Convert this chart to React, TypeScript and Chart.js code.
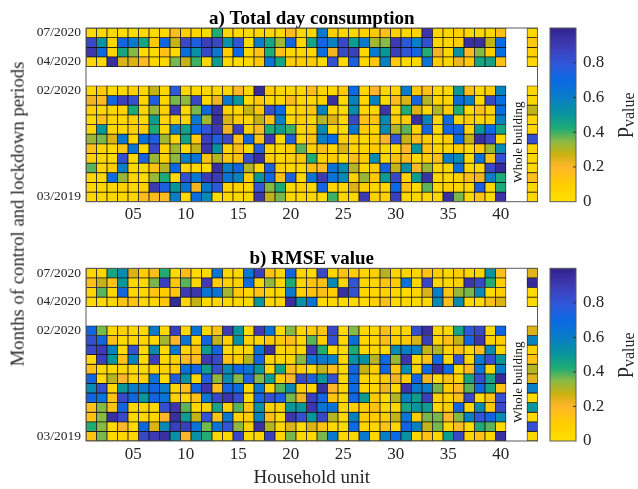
import React, { useEffect, useRef } from "react";
import { Chart, registerables } from "chart.js";
Chart.register(...registerables);

const SERIF = '"Liberation Serif", "Times New Roman", serif';

const units = Array.from({ length: 43 }, (_, i) => String(i + 1));
const xTickUnits = [5, 10, 15, 20, 25, 30, 35, 40];
const xTickLabels = ["05", "10", "15", "20", "25", "30", "35", "40"];
const yTickRows = [1, 4, 7, 18];
const yTickLabels = ["07/2020", "04/2020", "02/2020", "03/2019"];
const rowNumbers = [1, 2, 3, 4, 7, 8, 9, 10, 11, 12, 13, 14, 15, 16, 17, 18];
const colorbarTicks = [0, 0.2, 0.4, 0.6, 0.8];
const colorStops: [number, number, number, number][] = [
  [0, 255, 224, 0],
  [0.1, 255, 205, 0],
  [0.2, 255, 182, 42],
  [0.27, 205, 178, 15],
  [0.35, 135, 185, 70],
  [0.42, 32, 172, 115],
  [0.5, 8, 150, 155],
  [0.6, 8, 125, 200],
  [0.7, 10, 105, 228],
  [0.8, 50, 85, 215],
  [0.9, 62, 58, 180],
  [1, 50, 35, 140],
];

const a01 = [.02,.03,.03,.02,.02,.03,.03,.04,.18,.1,.05,.03,.42,.05,.03,.03,.05,.05,.03,.18,.05,.05,.62,.08,.05,.05,.08,.12,.16,.08,.05,.05,.92,.05,.05,.08,.05,.05,.05,.16];
const a02 = [.85,.52,.05,.72,.62,.45,.12,.72,.28,.85,.75,.88,.85,.52,.8,.03,.6,.45,.32,.72,.05,.45,.72,.58,.85,.48,.62,.32,.35,.9,.78,.6,.82,.05,.05,.1,.95,.95,.28,.7];
const a03 = [.92,.72,.05,.45,.35,.02,.03,.15,.03,.68,.52,.85,.62,.1,.7,.05,.15,.42,.15,.05,.05,.05,.68,.22,.85,.88,.05,.62,.5,.88,.8,.72,.42,.22,.05,.52,.18,.35,.1,.68];
const a04 = [.05,.03,.95,.25,.25,.18,.05,.05,.36,.28,.4,.05,.48,.05,.03,.05,.12,.65,.45,.1,.1,.1,.03,.82,.03,.75,.05,.12,.58,.12,.03,.03,.65,.1,.05,.22,.12,.45,.46,.16];
const a07 = [.05,.1,.03,.05,.08,.05,.28,.05,.78,.05,.03,.05,.05,.05,.2,.05,.97,.1,.05,.05,.05,.16,.05,.03,.12,.7,.05,.2,.05,.05,.6,.12,.16,.03,.05,.5,.16,.03,.1,.58];
const a08 = [.22,.17,.72,.88,.82,.05,.75,.05,.36,.34,.85,.03,.22,.62,.5,.03,.12,.05,.05,.17,.05,.03,.08,.95,.03,.58,.05,.58,.05,.17,.25,.72,.3,.05,.05,.68,.6,.03,.85,.68];
const a09 = [.08,.05,.05,.08,.43,.05,.33,.08,.9,.03,.36,.72,.93,.08,.05,.28,.12,.82,.7,.03,.08,.12,.58,.05,.03,.55,.05,.05,.92,.05,.42,.25,.05,.3,.1,.42,.03,.16,.08,.68];
const a10 = [.03,.15,.05,.05,.08,.03,.48,.05,.08,.06,.62,.32,.95,.25,.1,.05,.28,.15,.58,.03,.1,.05,.3,.25,.05,.85,.16,.14,.55,.1,.1,.95,.58,.05,.68,.05,.1,.05,.08,.58];
const a11 = [.05,.5,.05,.05,.08,.1,.43,.05,.6,.46,.7,.8,.9,.22,.88,.08,.18,.42,.48,.4,.05,.1,.55,.03,.03,.65,.1,.05,.55,.3,.38,.08,.72,.03,.72,.72,.05,.5,.7,.45];
const a12 = [.33,.36,.25,.62,.06,.68,.75,.32,.06,.46,.12,.88,.75,.85,.15,.72,.14,.9,.03,.75,.05,.14,.6,.7,.08,.1,.05,.08,.2,.8,.28,.17,.1,.03,.1,.7,.28,.95,.85,.03];
const a13 = [.16,.05,.03,.14,.65,.05,.85,.08,.32,.03,.28,.92,.52,.06,.17,.03,.75,.05,.05,.1,.38,.08,.17,.05,.25,.05,.05,.1,.05,.03,.2,.5,.14,.05,.05,.1,.03,.12,.32,.55];
const a14 = [.08,.05,.03,.82,.03,.75,.33,.08,.34,.6,.65,.14,.3,.12,.15,.82,.95,.1,.05,.08,.12,.42,.08,.1,.03,.16,.1,.55,.05,.14,.17,.03,.1,.14,.6,.55,.03,.65,.14,.82];
const a15 = [.38,.05,.1,.6,.03,.05,.15,.3,.7,.05,.05,.02,.95,.6,.72,.3,.05,.75,.1,.05,.03,.16,.18,.65,.55,.3,.05,.1,.72,.28,.52,.2,.33,.05,.05,.68,.05,.05,.85,.97];
const a16 = [.05,.03,.68,.33,.05,.03,.33,.43,.03,.82,.62,.9,.9,.65,.58,.1,.5,.72,.16,.75,.05,.65,.9,.65,.55,.08,.33,.12,.48,.85,.08,.48,.93,.05,.05,.08,.16,.22,.6,.43];
const a17 = [.05,.05,.05,.08,.05,.08,.9,.75,.5,.65,.22,.62,.78,.08,.08,.05,.8,.35,.43,.03,.08,.05,.72,.05,.05,.25,.1,.05,.05,.7,.16,.03,.38,.05,.08,.05,.05,.75,.05,.43];
const a18 = [.05,.05,.05,.05,.05,.17,.18,.18,.6,.03,.68,.55,.03,.05,.05,.05,.92,.28,.36,.05,.05,.05,.03,.4,.05,.05,.9,.08,.08,.88,.05,.05,.05,.05,.95,.36,.05,.14,.03,.93];
const aWhole = [.05,.12,.08,.05,.05,.05,.28,.05,.05,.82,.05,.05,.05,.16,.05,.05];

const b01 = [.05,.05,.45,.55,.25,.1,.16,.42,.03,.17,.03,.03,.65,.05,.05,.62,.88,.14,.05,.72,.05,.03,.85,.05,.15,.1,.05,.08,.3,.05,.05,.05,.15,.1,.05,.1,.05,.05,.52,.16];
const b02 = [.16,.28,.15,.5,.05,.05,.36,.88,.12,.38,.05,.9,.1,.08,.08,.68,.05,.34,.05,.43,.05,.14,.16,.55,.05,.8,.05,.05,.15,.1,.65,.05,.85,.05,.05,.08,.92,.85,.42,.1];
const b03 = [.05,.38,.05,.72,.05,.05,.14,.1,.14,.9,.92,.65,.65,.32,.12,.05,.14,.05,.05,.62,.08,.14,.16,.1,.95,.82,.05,.05,.08,.05,.03,.05,.25,.6,.14,.33,.36,.55,.03,.1];
const b04 = [.03,.03,.05,.15,.14,.05,.05,.12,.97,.05,.28,.03,.05,.05,.05,.03,.5,.05,.05,.95,.52,.65,.03,.05,.03,.03,.03,.08,.16,.03,.05,.03,.05,.55,.16,.55,.03,.03,.16,.25];
const b07 = [.72,.36,.05,.08,.05,.05,.62,.03,.88,.05,.65,.05,.15,.9,.5,.03,.9,.65,.05,.35,.05,.1,.14,.85,.03,.35,.05,.05,.16,.05,.05,.82,.95,.05,.05,.45,.78,.85,.05,.72];
const b08 = [.82,.72,.16,.03,.05,.05,.05,.32,.2,.65,.05,.72,.28,.08,.52,.08,.05,.12,.12,.16,.05,.38,.1,.82,.05,.68,.05,.05,.16,.1,.12,.25,.88,.05,.16,.28,.72,.92,.08,.1];
const b09 = [.85,.9,.58,.03,.82,.03,.55,.03,.62,.05,.14,.48,.72,.03,.05,.05,.65,.95,.05,.08,.05,.9,.42,.03,.03,.43,.05,.05,.03,.55,.6,.58,.28,.3,.08,.14,.03,.16,.55,.05];
const b10 = [.03,.88,.5,.15,.58,.03,.88,.03,.08,.18,.18,.9,.85,.15,.1,.3,.72,.05,.05,.05,.35,.65,.62,.6,.05,.52,.52,.3,.7,.33,.92,.05,.14,.7,.05,.8,.05,.62,.82,.5];
const b11 = [.15,.03,.03,.05,.03,.03,.08,.08,.1,.66,.72,.48,.82,.55,.72,.65,.5,.05,.45,.16,.1,.05,.28,.17,.05,.72,.28,.08,.72,.12,.55,.08,.7,.95,.7,.03,.17,.65,.05,.6];
const b12 = [.72,.03,.3,.2,.05,.08,.65,.03,.75,.52,.05,.75,.34,.55,.35,.75,.35,.48,.1,.2,.85,.75,.5,.82,.05,.7,.05,.05,.12,.22,.1,.72,.22,.03,.14,.08,.45,.82,.45,.97];
const b13 = [.55,.82,.05,.5,.6,.62,.72,.6,.05,.16,.72,.92,.16,.72,.68,.03,.62,.05,.38,.55,.08,.05,.95,.2,.05,.7,.05,.05,.22,.05,.92,.62,.6,.36,.1,.18,.38,.72,.45,.15];
const b14 = [.72,.65,.15,.85,.72,.5,.72,.65,.08,.05,.16,.62,.85,.92,.82,.03,.72,.82,.75,.36,.22,.88,.72,.14,.05,.72,.48,.1,.03,.3,.58,.48,.88,.08,.08,.16,.85,.03,.16,.82];
const b15 = [.15,.35,.15,.72,.05,.05,.05,.82,.92,.38,.05,.08,.45,.08,.38,.15,.52,.08,.08,.5,.5,.92,.65,.65,.05,.1,.1,.14,.05,.05,.45,.5,.48,.05,.1,.72,.05,.55,.12,.85];
const b16 = [.15,.35,.95,.85,.03,.05,.05,.2,.95,.48,.28,.8,.14,.62,.08,.1,.58,.16,.03,.92,.82,.5,.85,.3,.05,.58,.1,.1,.1,.28,.65,.1,.36,.36,.2,.35,.58,.8,.72,.55];
const b17 = [.42,.35,.03,.2,.03,.72,.25,.55,.88,.88,.65,.36,.65,.8,.34,.08,.95,.3,.05,.25,.03,.25,.15,.03,.03,.7,.05,.05,.15,.05,.72,.58,.28,.36,.05,.18,.03,.43,.38,.03];
const b18 = [.14,.36,.05,.05,.05,.85,.9,.95,.52,.2,.52,.42,.05,.05,.85,.03,.05,.88,.05,.36,.05,.03,.36,.62,.03,.05,.62,.05,.6,.7,.52,.05,.15,.05,.48,.85,.05,.14,.05,.95];
const bWhole = [.24,.97,.03,.03,.25,.58,.08,.14,.3,.24,.6,.03,.5,.03,.82,.05];

const aRows = [a01, a02, a03, a04, a07, a08, a09, a10, a11, a12, a13, a14, a15, a16, a17, a18];
const bRows = [b01, b02, b03, b04, b07, b08, b09, b10, b11, b12, b13, b14, b15, b16, b17, b18];

function colorOf(p: number): string {
  for (let i = 1; i < colorStops.length; i++) {
    const s0 = colorStops[i - 1];
    const s1 = colorStops[i];
    if (p <= s1[0]) {
      const t = (p - s0[0]) / (s1[0] - s0[0]);
      const c = [1, 2, 3].map((k) => Math.round(s0[k] + (s1[k] - s0[k]) * t));
      return `rgb(${c[0]},${c[1]},${c[2]})`;
    }
  }
  return "rgb(50,35,140)";
}

const framePlugin = {
  id: "frame",
  afterDraw(chart: any) {
    const { ctx, chartArea: a } = chart;
    ctx.save();
    ctx.strokeStyle = "#5a5a5a";
    ctx.lineWidth = 1;
    ctx.strokeRect(a.left, a.top, a.right - a.left, a.bottom - a.top);
    ctx.restore();
  },
};

const colorbarTickPlugin = {
  id: "cbTicks",
  afterDraw(chart: any) {
    const { ctx, chartArea: a, scales } = chart;
    ctx.save();
    ctx.strokeStyle = "#333";
    ctx.lineWidth = 1;
    colorbarTicks.slice(1).forEach((v) => {
      const y = scales.y.getPixelForValue(v);
      ctx.beginPath();
      ctx.moveTo(a.right, y);
      ctx.lineTo(a.right - 3, y);
      ctx.stroke();
    });
    ctx.restore();
  },
};

type PanelProps = {
  rows: number[][];
  whole: number[];
  title: string;
  top: number;
  height: number;
  areaTop: number;
  areaBottom: number;
  withXTitle?: boolean;
};

const W = 545;
const AREA_LEFT = 86;
const AREA_RIGHT = 537.5;
const TEXT = "#262626";

function Heat({ rows, whole, title, top, height, areaTop, areaBottom, withXTitle }: PanelProps) {
  const ref = useRef<HTMLCanvasElement>(null);
  useEffect(() => {
    const datasets = rows.map((row, r) => {
      const values = units.map((_, c) => (c < 40 ? row[c] : c === 42 ? whole[r] : null));
      const rowNo = rowNumbers[r];
      return {
        label: "row " + rowNo,
        data: values.map((v) => (v === null ? null : [rowNo - 0.5, rowNo + 0.5])),
        backgroundColor: values.map((v) => (v === null ? "rgba(0,0,0,0)" : colorOf(v))),
        borderColor: "rgba(10,10,10,0.95)",
        borderWidth: 0.75,
        borderSkipped: false,
        categoryPercentage: 1,
        barPercentage: 1,
        grouped: false,
      };
    });
    const chart = new Chart(ref.current!, {
      type: "bar",
      data: { labels: units, datasets: datasets as any },
      plugins: [framePlugin],
      options: {
        animation: false,
        responsive: false,
        layout: { padding: { left: 0, right: W - AREA_RIGHT, top: 0, bottom: 0 } },
        plugins: {
          legend: { display: false },
          tooltip: { enabled: false },
          title: {
            display: true,
            text: title,
            fullSize: false,
            color: "#000",
            font: { family: SERIF, size: 19, weight: "bold", lineHeight: 1 },
            padding: { top: areaTop - 18.5, bottom: -0.5 },
          },
        },
        scales: {
          x: {
            type: "category",
            grid: { display: false, drawTicks: false },
            border: { display: false },
            afterFit(s: any) {
              s.height = height - areaBottom;
            },
            ticks: {
              autoSkip: false,
              maxRotation: 0,
              minRotation: 0,
              padding: 3,
              color: TEXT,
              font: { family: SERIF, size: 17 },
              callback(_: any, i: number) {
                const k = xTickUnits.indexOf(i + 1);
                return k >= 0 ? xTickLabels[k] : "";
              },
            },
            title: withXTitle
              ? {
                  display: true,
                  text: "Household unit",
                  color: TEXT,
                  font: { family: SERIF, size: 19 },
                  padding: { top: 0, bottom: 0 },
                }
              : { display: false },
          },
          y: {
            type: "linear",
            min: 0.5,
            max: 18.5,
            reverse: true,
            grid: { display: false, drawTicks: false },
            border: { display: false },
            afterFit(s: any) {
              s.width = AREA_LEFT;
            },
            afterBuildTicks(s: any) {
              s.ticks = yTickRows.map((value) => ({ value }));
            },
            ticks: {
              autoSkip: false,
              padding: 5,
              color: TEXT,
              font: { family: SERIF, size: 13.5 },
              callback(v: any) {
                return yTickLabels[yTickRows.indexOf(v)];
              },
            },
          },
        },
      },
    } as any);
    return () => chart.destroy();
  }, []);
  return (
    <canvas
      ref={ref}
      width={W}
      height={height}
      style={{ position: "absolute", left: 0, top, width: W, height }}
    />
  );
}

function Bar({ top, height, areaTop, areaBottom }: { top: number; height: number; areaTop: number; areaBottom: number }) {
  const ref = useRef<HTMLCanvasElement>(null);
  useEffect(() => {
    const chart = new Chart(ref.current!, {
      type: "bar",
      data: {
        labels: ["p"],
        datasets: [
          {
            data: [[0, 1]],
            categoryPercentage: 1,
            barPercentage: 1,
            backgroundColor(ctx: any) {
              const a = ctx.chart.chartArea;
              if (!a) return "#ffe000";
              const g = ctx.chart.ctx.createLinearGradient(0, a.bottom, 0, a.top);
              colorStops.forEach((s) => g.addColorStop(s[0], `rgb(${s[1]},${s[2]},${s[3]})`));
              return g;
            },
          },
        ],
      } as any,
      plugins: [framePlugin, colorbarTickPlugin],
      options: {
        animation: false,
        responsive: false,
        layout: { padding: { left: 5, right: 0, top: areaTop, bottom: height - areaBottom } },
        plugins: { legend: { display: false }, tooltip: { enabled: false } },
        scales: {
          x: { display: false },
          y: {
            position: "right",
            min: 0,
            max: 1,
            grid: { display: false, drawTicks: false },
            border: { display: false },
            afterFit(s: any) {
              s.width = 62;
            },
            afterBuildTicks(s: any) {
              s.ticks = colorbarTicks.map((value) => ({ value }));
            },
            ticks: {
              padding: 7,
              color: TEXT,
              font: { family: SERIF, size: 17 },
              callback(v: any) {
                return String(v);
              },
            },
          },
        },
      },
    } as any);
    return () => chart.destroy();
  }, []);
  return (
    <canvas
      ref={ref}
      width={93}
      height={height}
      style={{ position: "absolute", left: 545, top, width: 93, height }}
    />
  );
}

function Rot({ x, y, size, text, color }: { x: number; y: number; size: number; text: React.ReactNode; color?: string }) {
  return (
    <div
      style={{
        position: "absolute",
        left: x,
        top: y,
        transform: "translate(-50%,-50%) rotate(-90deg)",
        whiteSpace: "nowrap",
        fontFamily: SERIF,
        fontSize: size,
        lineHeight: 1,
        color: color || TEXT,
      }}
    >
      {text}
    </div>
  );
}

export default function App() {
  return (
    <div style={{ position: "absolute", left: 0, top: 0, width: 638, height: 489, overflow: "hidden", background: "#fff" }}>
      <Heat rows={aRows} whole={aWhole} title="a) Total day consumption" top={0} height={225} areaTop={28} areaBottom={201.7} />
      <Heat rows={bRows} whole={bWhole} title="b) RMSE value" top={240} height={249} areaTop={28.3} areaBottom={201} withXTitle />
      <Bar top={0} height={225} areaTop={28} areaBottom={201.7} />
      <Bar top={240} height={249} areaTop={28.3} areaBottom={201} />
      <Rot x={18} y={214} size={18.7} text="Months of control and lockdown periods" />
      <Rot x={517} y={142} size={13} text="Whole building" color="#111" />
      <Rot x={517} y={382} size={13} text="Whole building" color="#111" />
      <Rot x={624} y={115} size={21} text={<span>p<sub style={{ fontSize: 16 }}>value</sub></span>} />
      <Rot x={624} y={355} size={21} text={<span>p<sub style={{ fontSize: 16 }}>value</sub></span>} />
    </div>
  );
}
